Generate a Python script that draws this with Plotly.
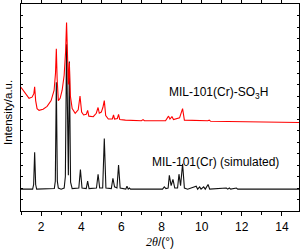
import plotly.graph_objects as go

# Simulated pattern MIL-101(Cr) (black)
sim_2theta = [1.0, 1.58, 1.63, 1.68, 1.73, 1.78, 2.66, 2.71, 2.76, 2.81, 2.86, 3.0, 3.15, 3.21, 3.27,
              3.33, 3.36, 3.41, 3.47, 3.55, 3.88, 3.96, 4.04, 4.25, 4.32, 4.39, 4.76, 4.84, 4.92,
              5.07, 5.15, 5.23, 5.5, 5.58, 5.66, 5.78, 5.86, 5.94, 6.22, 6.28, 6.34, 6.4, 6.46,
              8.05, 8.14, 8.22, 8.33, 8.39, 8.48, 8.57, 8.66, 8.8, 8.87, 8.95, 9.05, 9.14, 9.3,
              9.73, 9.8, 9.9, 9.97, 10.1, 10.18, 10.32, 10.4, 11.23, 11.3, 11.38, 11.45, 11.73,
              11.8, 14.85]
sim_int = [1.9, 1.9, 2.3, 5.1, 2.3, 1.9, 1.95, 2.6, 11.2, 2.6, 2.0, 1.9, 2.0, 3.0, 14.5,
           3.5, 3.1, 13.0, 2.5, 1.95, 2.0, 3.6, 2.0, 1.95, 2.6, 1.95, 2.0, 3.2, 2.0,
           2.0, 6.3, 2.0, 1.95, 2.85, 2.1, 2.0, 4.0, 2.0, 1.9, 2.15, 1.9, 2.0, 1.9,
           1.9, 2.1, 1.95, 2.0, 3.1, 2.2, 2.75, 2.0, 2.0, 3.2, 2.2, 4.1, 2.0, 1.9,
           2.15, 1.9, 2.1, 1.9, 2.1, 1.9, 2.3, 1.9, 2.0, 1.9, 2.0, 1.9, 2.0,
           1.9, 1.9]

# Measured pattern MIL-101(Cr)-SO3H (red)
so3h_2theta = [1.0, 1.2, 1.4, 1.55, 1.64, 1.68, 1.73, 1.8, 1.9, 2.1, 2.3, 2.5, 2.65, 2.72, 2.76,
               2.8, 2.86, 2.95, 3.05, 3.15, 3.22, 3.27, 3.32, 3.36, 3.41, 3.46, 3.55, 3.7, 3.85,
               3.94, 4.02, 4.12, 4.25, 4.32, 4.38, 4.6, 4.75, 4.84, 4.9, 5.0, 5.08, 5.15, 5.22,
               5.35, 5.55, 5.61, 5.66, 5.8, 5.86, 5.92, 6.2, 7.0, 7.08, 7.15, 8.2, 8.35, 8.42,
               8.52, 8.6, 8.9, 9.05, 9.14, 10.3, 10.38, 10.45, 14.85]
so3h_int = [10.75, 10.3, 9.8, 9.9, 10.2, 10.8, 9.6, 8.9, 8.75, 8.85, 9.1, 9.6, 10.5, 12.0, 14.1,
            11.5, 9.6, 9.8, 10.5, 11.8, 13.8, 16.4, 12.5, 11.0, 12.9, 10.0, 8.9, 8.5, 8.8,
            10.0, 8.6, 8.35, 8.4, 8.75, 8.25, 8.2, 8.5, 9.0, 8.5, 8.6, 9.0, 9.6, 8.3,
            8.0, 8.0, 8.35, 8.0, 8.05, 8.4, 7.95, 7.9, 7.85, 7.95, 7.85, 7.85, 8.25, 8.0,
            8.2, 7.95, 8.1, 8.9, 7.9, 7.85, 7.9, 7.8, 7.7]

x_ticks = [2, 4, 6, 8, 10, 12, 14]
x_minor = [1, 3, 5, 7, 9, 11, 13]

FONT = "Liberation Sans, Arial"

fig = go.Figure()
fig.add_trace(go.Scatter(x=sim_2theta, y=sim_int, mode="lines",
                         line=dict(color="#111111", width=1.1), showlegend=False))
fig.add_trace(go.Scatter(x=so3h_2theta, y=so3h_int, mode="lines",
                         line=dict(color="#ff0000", width=1.1), showlegend=False))

fig.add_annotation(x=10.83, y=10.26, xref="x", yref="y", text="MIL-101(Cr)-SO<sub>3</sub>H",
                   showarrow=False, font=dict(family=FONT, size=12, color="#000"))
fig.add_annotation(x=10.7, y=4.29, xref="x", yref="y", text="MIL-101(Cr) (simulated)",
                   showarrow=False, font=dict(family=FONT, size=12, color="#000"))
fig.add_annotation(x=-13/278, y=(211-113)/207, xref="paper", yref="paper", text="Intensity/a.u.",
                   textangle=-90, showarrow=False, xanchor="center", yanchor="middle",
                   font=dict(family=FONT, size=11.5, color="#000"))
fig.add_annotation(x=0.5, y=0, xref="paper", yref="paper",
                   text="<span style='font-family:Liberation Serif'><i>2θ</i></span>/(°)",
                   showarrow=False, xanchor="center", yanchor="middle", yshift=-31,
                   font=dict(family=FONT, size=12, color="#000"))

fig.update_xaxes(range=[1.0, 14.85], tickvals=x_ticks, ticks="outside", ticklen=4, tickwidth=1,
                 tickcolor="#000", showline=True, linecolor="#000", linewidth=1.3, mirror="ticks",
                 showgrid=False, zeroline=False, automargin=False,
                 minor=dict(tickvals=x_minor, ticks="outside", ticklen=3, tickcolor="#000"),
                 tickfont=dict(family=FONT, size=12, color="#000"))
fig.update_yaxes(range=[0, 18], dtick=1, ticks="inside", ticklen=2, tickwidth=1, tickcolor="#000",
                 showticklabels=False, showline=True, linecolor="#000", linewidth=1.3, mirror="ticks",
                 showgrid=False, zeroline=False, automargin=False)

fig.update_layout(width=307, height=251, margin=dict(l=21, r=8, t=4, b=40),
                  plot_bgcolor="white", paper_bgcolor="white")

fig.write_html("out.html", config={"displayModeBar": False, "staticPlot": True},
               post_script="document.body.style.margin='0';document.body.style.padding='0';")
